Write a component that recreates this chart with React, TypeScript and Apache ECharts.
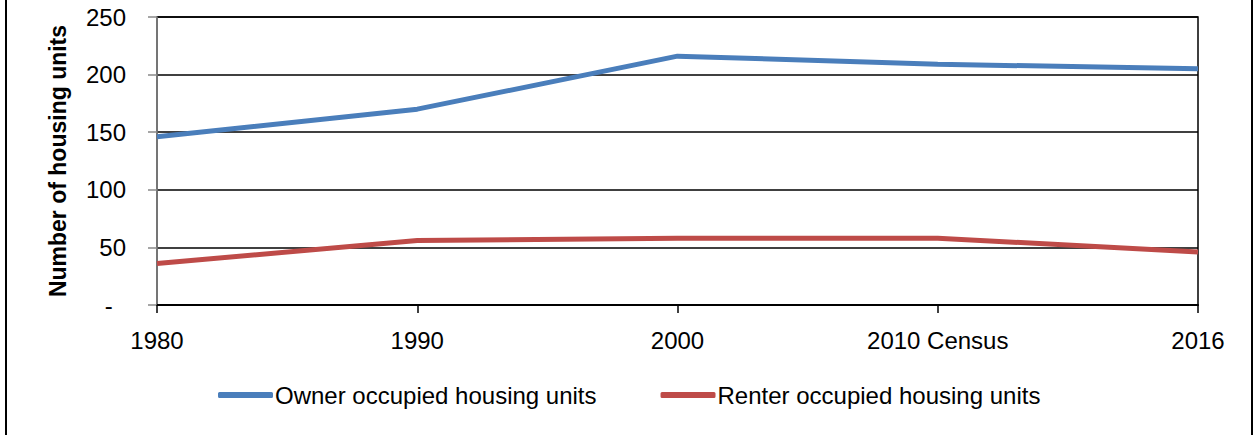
import React, { useEffect, useRef } from "react";
import * as echarts from "echarts";

const categories = ["1980", "1990", "2000", "2010 Census", "2016"];
const ownerValues = [146, 170, 216, 209, 205];
const renterValues = [36, 56, 58, 58, 46];
const seriesNames = ["Owner occupied housing units", "Renter occupied housing units"];
const yTicks = { min: 0, max: 250, interval: 50 };
const yAxisTitle = "Number of housing units";

const FONT = "'Liberation Sans', Arial, sans-serif";

export default function App() {
  const ref = useRef<HTMLDivElement>(null);
  useEffect(() => {
    if (!ref.current) return;
    const chart = echarts.init(ref.current, null, { renderer: "svg" });
    chart.setOption({
      animation: false,
      backgroundColor: "#ffffff",
      textStyle: { fontFamily: FONT },
      grid: {
        left: 157,
        right: 56,
        top: 17,
        bottom: 130,
        show: true,
        borderColor: "#000",
        borderWidth: 1.5,
        containLabel: false,
      },
      graphic: [
        { type: "line", shape: { x1: 6, y1: 0, x2: 6, y2: 435 }, style: { stroke: "#000", lineWidth: 2 } },
        { type: "line", shape: { x1: 1252, y1: 0, x2: 1252, y2: 435 }, style: { stroke: "#000", lineWidth: 2 } },
      ],
      legend: {
        left: 213,
        top: 378,
        itemWidth: 55,
        itemHeight: 6,
        itemGap: 64,
        icon: "roundRect",
        textStyle: { fontSize: 24, color: "#000", fontFamily: FONT, padding: [0, 0, 0, -3] },
        data: seriesNames,
      },
      xAxis: {
        type: "category",
        data: categories,
        boundaryGap: false,
        axisLine: { show: true, lineStyle: { color: "#000", width: 2 } },
        axisTick: { show: true, length: 8, alignWithLabel: true, lineStyle: { color: "#000", width: 1.5 } },
        axisLabel: { color: "#000", fontSize: 24, margin: 23, fontFamily: FONT },
        splitLine: { show: false },
      },
      yAxis: {
        type: "value",
        min: yTicks.min,
        max: yTicks.max,
        interval: yTicks.interval,
        name: yAxisTitle,
        nameLocation: "middle",
        nameGap: 88,
        nameTextStyle: { fontSize: 23, fontWeight: "bold", color: "#000", fontFamily: FONT },
        axisLine: { show: true, lineStyle: { color: "#888", width: 1.5 } },
        axisTick: { show: true, length: 9, inside: false, lineStyle: { color: "#888", width: 1.5 } },
        axisLabel: {
          color: "#000",
          fontSize: 24,
          margin: 31,
          fontFamily: FONT,
          formatter: (v: number) => (v === 0 ? "-  " : String(v)),
        },
        splitLine: { show: true, lineStyle: { color: "#000", width: 1.5 } },
      },
      series: [
        {
          name: seriesNames[0],
          type: "line",
          data: ownerValues,
          symbol: "none",
          lineStyle: { color: "#4a7ebb", width: 5 },
          itemStyle: { color: "#4a7ebb" },
        },
        {
          name: seriesNames[1],
          type: "line",
          data: renterValues,
          symbol: "none",
          lineStyle: { color: "#be4b48", width: 5 },
          itemStyle: { color: "#be4b48" },
        },
      ],
    });
    return () => chart.dispose();
  }, []);
  return (
    <div
      ref={ref}
      style={{ position: "fixed", left: 0, top: 0, width: 1254, height: 435, background: "#fff" }}
    />
  );
}
